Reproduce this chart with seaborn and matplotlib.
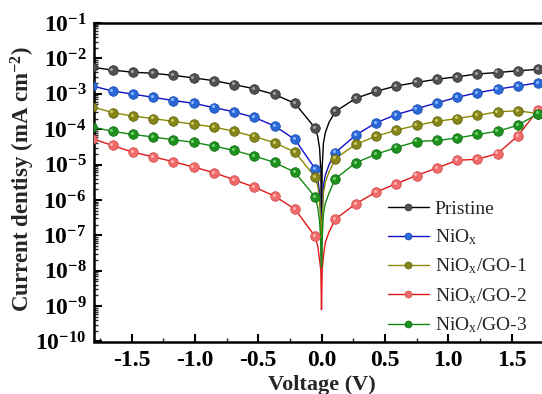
import numpy as np
import pandas as pd
import matplotlib
matplotlib.use("Agg")
import matplotlib.pyplot as plt
import matplotlib.transforms as mtransforms
from matplotlib.lines import Line2D
from matplotlib.ticker import FixedLocator, LogLocator, MultipleLocator, NullFormatter
import seaborn as sns

# ---------------- data ----------------
samples = ["Pristine", r"NiO$_\mathrm{x}$", r"NiO$_\mathrm{x}$/GO-1",
           r"NiO$_\mathrm{x}$/GO-2", r"NiO$_\mathrm{x}$/GO-3"]

# voltages of the marked points (V)
V_marks = [-1.81, -1.65, -1.49, -1.33, -1.17, -1.01, -0.85, -0.69, -0.53, -0.37, -0.21, -0.05,
           0.11, 0.27, 0.43, 0.59, 0.75, 0.91, 1.07, 1.23, 1.39, 1.55, 1.71]
# extra voltages describing the sharp dip near 0 V (line only)
V_dip = [-0.03, -0.015, -0.005, 0.0, 0.005, 0.015, 0.03, 0.06]

# log10 of current density (mA cm^-2) at V_marks
logJ_pristine = [-2.25, -2.33, -2.39, -2.42, -2.48, -2.55, -2.63, -2.74, -2.86, -3.02, -3.27, -3.97,
                 -3.50, -3.13, -2.93, -2.78, -2.68, -2.59, -2.52, -2.44, -2.40, -2.35, -2.31]
logJ_niox = [-2.78, -2.92, -3.01, -3.10, -3.19, -3.27, -3.39, -3.51, -3.67, -3.91, -4.29, -5.12,
             -4.66, -4.17, -3.82, -3.59, -3.42, -3.26, -3.10, -2.97, -2.87, -2.78, -2.69]
logJ_go1 = [-3.37, -3.53, -3.63, -3.70, -3.78, -3.86, -3.94, -4.06, -4.21, -4.38, -4.65, -5.35,
            -4.83, -4.43, -4.20, -4.03, -3.89, -3.78, -3.70, -3.61, -3.51, -3.48, -3.56]
logJ_go2 = [-4.27, -4.46, -4.65, -4.78, -4.92, -5.07, -5.23, -5.43, -5.64, -5.89, -6.26, -7.03,
            -6.54, -6.11, -5.78, -5.54, -5.31, -5.10, -4.88, -4.85, -4.69, -4.19, -3.46]
logJ_go3 = [-3.94, -4.06, -4.15, -4.22, -4.30, -4.37, -4.48, -4.60, -4.76, -4.94, -5.22, -5.92,
            -5.40, -4.95, -4.71, -4.52, -4.35, -4.32, -4.25, -4.15, -4.06, -3.89, -3.56]

# log10 of current density at V_dip
dip_pristine = [-4.20, -4.55, -5.20, -7.60, -5.10, -4.40, -4.10, -3.80]
dip_niox = [-5.40, -5.80, -6.50, -7.80, -6.40, -5.60, -5.30, -5.00]
dip_go1 = [-5.60, -6.00, -6.70, -7.80, -6.60, -5.80, -5.50, -5.20]
dip_go2 = [-7.30, -7.70, -8.00, -9.10, -8.00, -7.60, -7.20, -6.90]
dip_go3 = [-6.20, -6.60, -7.20, -7.90, -7.10, -6.40, -6.10, -5.80]

x_ticks = [-1.5, -1.0, -0.5, 0.0, 0.5, 1.0, 1.5]
x_ticklabels = ["-1.5", "-1.0", "-0.5", "0.0", "0.5", "1.0", "1.5"]
y_exponents = [-10, -9, -8, -7, -6, -5, -4, -3, -2, -1]

# ---------------- styling ----------------
line_colors = ["#000000", "#1010c8", "#8a8a00", "#e01818", "#128a12"]
marker_colors = ["#505050", "#2a68d8", "#85851a", "#f06a6a", "#1e901e"]
edge_colors = ["#303030", "#1a4aa8", "#606010", "#d04848", "#106a10"]
highlight_colors = ["#a0a0a0", "#8ab4ff", "#c8c860", "#ffb0b0", "#70d070"]

mark_sets = [logJ_pristine, logJ_niox, logJ_go1, logJ_go2, logJ_go3]
dip_sets = [dip_pristine, dip_niox, dip_go1, dip_go2, dip_go3]

sns.set_theme(style="ticks")
plt.rcParams["font.family"] = ["Liberation Serif", "DejaVu Serif"]
plt.rcParams["mathtext.fontset"] = "custom"
plt.rcParams["mathtext.rm"] = "Liberation Serif"
plt.rcParams["mathtext.it"] = "Liberation Serif:italic"
plt.rcParams["mathtext.bf"] = "Liberation Serif:bold"

rows_line, rows_mark = [], []
for name, lm, ld in zip(samples, mark_sets, dip_sets):
    for v, l in zip(V_marks, lm):
        rows_line.append((name, v, 10.0 ** l))
        rows_mark.append((name, v, 10.0 ** l))
    for v, l in zip(V_dip, ld):
        rows_line.append((name, v, 10.0 ** l))
df_line = pd.DataFrame(rows_line, columns=["sample", "V", "J"]).sort_values(["sample", "V"])
df_mark = pd.DataFrame(rows_mark, columns=["sample", "V", "J"])

fig = plt.figure(figsize=(5.42, 3.94), dpi=100)
W, H = 542.0, 394.0
ax_left, ax_right, ax_top, ax_bottom = 93.5, 549.5, 23.0, 341.5
ax = fig.add_axes([ax_left / W, 1 - ax_bottom / H, (ax_right - ax_left) / W, (ax_bottom - ax_top) / H])

sns.lineplot(data=df_line, x="V", y="J", hue="sample", hue_order=samples,
             palette=line_colors, sort=True, estimator=None, linewidth=1.0,
             legend=False, ax=ax, zorder=2)

hl_trans = mtransforms.offset_copy(ax.transData, fig=fig, x=-1.1, y=1.1, units="dots")
for i, name in enumerate(samples):
    sub = df_mark[df_mark["sample"] == name]
    sns.scatterplot(data=sub, x="V", y="J", color=marker_colors[i], s=48,
                    edgecolor=edge_colors[i], linewidth=0.5, legend=False, ax=ax, zorder=3 + i)
    ax.scatter(sub["V"], sub["J"], s=5, color=highlight_colors[i], linewidths=0,
               transform=hl_trans, zorder=3 + i + 0.5)

ax.set_yscale("log")
ax.set_xlim(-1.8, 1.8)
ax.set_ylim(1e-10, 1e-1)

ax.xaxis.set_major_locator(FixedLocator(x_ticks))
ax.set_xticklabels(x_ticklabels)
ax.xaxis.set_minor_locator(MultipleLocator(0.25))
ax.yaxis.set_major_locator(FixedLocator([10.0 ** e for e in y_exponents]))
ax.set_yticklabels([r"$\mathbf{10^{%d}}$" % e for e in y_exponents])
ax.yaxis.set_minor_locator(LogLocator(base=10, subs=np.arange(2, 10), numticks=20))
ax.yaxis.set_minor_formatter(NullFormatter())

for lab in ax.get_xticklabels():
    lab.set_fontweight("bold")
ax.tick_params(axis="both", which="major", direction="in", length=6, width=1.5,
               labelsize=17, top=False, right=False, colors="black")
ax.tick_params(axis="x", which="major", pad=6)
ax.tick_params(axis="y", which="major", pad=5)
ax.tick_params(axis="both", which="minor", direction="in", length=3, width=1.0,
               top=False, right=False)

for sp in ax.spines.values():
    sp.set_linewidth(1.8)
    sp.set_color("black")

ax.set_xlabel("Voltage (V)", fontsize=16, fontweight="bold", labelpad=3)
ax.set_ylabel(r"Current dentisy (mA cm$^{\mathbf{-2}}$)", fontsize=16.5, fontweight="bold")
ax.yaxis.set_label_coords(-0.124, 0.51)
ax.grid(False)

handles = [Line2D([0], [0], color=line_colors[i], lw=1.0, marker="o", markersize=5,
                  markerfacecolor=marker_colors[i], markeredgecolor=edge_colors[i],
                  markeredgewidth=0.5) for i in range(len(samples))]
fig.legend(handles, samples, loc="upper left", bbox_to_anchor=(388 / W, 1 - 200 / H),
           frameon=False, fontsize=14, handlelength=2.1, handletextpad=0.3,
           labelspacing=0.5, borderpad=0, borderaxespad=0)

fig.savefig("out.png", dpi=100)
